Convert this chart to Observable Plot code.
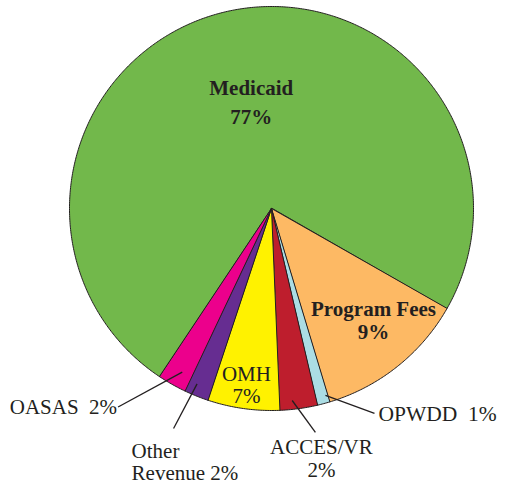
<!DOCTYPE html>
<html><head><meta charset="utf-8">
<script src="https://cdn.jsdelivr.net/npm/d3@7"></script>
<script src="https://cdn.jsdelivr.net/npm/@observablehq/plot@0.6"></script>
<style>html,body{margin:0;padding:0;background:#fff;overflow:hidden;}</style>
</head><body><div id="chart"></div>
<script>
// ---- data (clockwise from the Medicaid/OASAS boundary) ----
const categories = ["Medicaid", "Program Fees", "OPWDD", "ACCES/VR", "OMH", "Other Revenue", "OASAS"];
const shares = [73.9, 12.1, 1.0, 3.0, 5.75, 1.95, 2.3];          // slice sizes as drawn
const percentLabels = ["77%", "9%", "1%", "2%", "7%", "2%", "2%"]; // printed labels
const nameLabels = ["Medicaid", "Program Fees", "OPWDD", "ACCES/VR", "OMH", "Other\nRevenue", "OASAS"];
const colors = ["#72b84b", "#fdb964", "#abdde4", "#be1e2d", "#fff200", "#662d91", "#ec008c"];

// ---- layout ----
const startAngle = 213.6; // degrees clockwise from 12 o'clock
const ink = "#231f20";
const font = "Liberation Serif";

// label layout: polar anchor (deg, radius fraction), or leader line
const layout = [
  {inside: true, angle: 349.4, r: 0.545, anchor: "middle", lineAnchor: "middle", lineHeight: 1.36, weight: "bold", sep: "\n", size: 21},
  {inside: true, angle: 137.6, r: 0.749, anchor: "middle", lineAnchor: "middle", lineHeight: 1.1, weight: "bold", sep: "\n", size: 21},
  {a1: 163.9, r1: 0.963, a2: 153.3, r2: 1.135, anchor: "start", lineAnchor: "middle", lineHeight: 1.1, dx: 4, dy: 0, sep: "\u00a0 ", size: 21.5},
  {a1: 173.85, r1: 0.956, a2: 168.9, r2: 1.129, anchor: "middle", lineAnchor: "top", lineHeight: 1.1, dx: 6, dy: 5, sep: "\n", size: 21},
  {inside: true, angle: 188.1, r: 0.881, anchor: "middle", lineAnchor: "middle", lineHeight: 1.06, weight: "normal", sep: "\n", size: 21},
  {a1: 203, r1: 0.943, a2: 204, r2: 1.192, anchor: "start", lineAnchor: "top", lineHeight: 1.05, dx: -42, dy: 14, sep: " ", size: 21},
  {a1: 208.6, r1: 0.923, a2: 217.7, r2: 1.242, anchor: "end", lineAnchor: "middle", lineHeight: 1.1, dx: -1, dy: 0, sep: "\u00a0 ", size: 21}
];

const rad = d => d * Math.PI / 180;
const px = (a, r) => r * Math.sin(rad(a));
const py = (a, r) => r * Math.cos(rad(a));

// slice polygons
const total = d3.sum(shares);
const polys = [];
let acc = startAngle;
categories.forEach((name, i) => {
  const a0 = acc, a1 = acc + shares[i] / total * 360;
  acc = a1;
  polys.push({name, x: 0, y: 0});
  const n = Math.max(2, Math.ceil((a1 - a0) / 0.5));
  for (let k = 0; k <= n; ++k) {
    const a = a0 + (a1 - a0) * k / n;
    polys.push({name, x: px(a, 1), y: py(a, 1)});
  }
});

const marks = [
  Plot.line(polys, {x: "x", y: "y", z: "name", fill: "name", stroke: ink, strokeWidth: 1, curve: "linear-closed"})
];

const leaders = [];
categories.forEach((name, i) => {
  const L = layout[i];
  const text = nameLabels[i] + L.sep + percentLabels[i];
  let x, y;
  if (L.inside) { x = px(L.angle, L.r); y = py(L.angle, L.r); }
  else {
    leaders.push({x1: px(L.a1, L.r1), y1: py(L.a1, L.r1), x2: px(L.a2, L.r2), y2: py(L.a2, L.r2)});
    x = px(L.a2, L.r2); y = py(L.a2, L.r2);
  }
  marks.push(Plot.text([{x, y, text}], {
    x: "x", y: "y", text: "text",
    textAnchor: L.anchor, lineAnchor: L.lineAnchor, lineHeight: L.lineHeight,
    dx: L.dx || 0, dy: L.dy || 0,
    fontFamily: font, fontSize: L.size, fontWeight: L.weight || "normal", fill: ink
  }));
});
marks.push(Plot.link(leaders, {x1: "x1", y1: "y1", x2: "x2", y2: "y2", stroke: ink, strokeWidth: 1.3}));

const chart = Plot.plot({
  width: 505, height: 484,
  marginLeft: 69, marginRight: 32, marginTop: 6, marginBottom: 74,
  x: {domain: [-1, 1], axis: null},
  y: {domain: [-1, 1], axis: null},
  color: {domain: categories, range: colors},
  style: {background: "white", fontFamily: font},
  marks
});
document.getElementById("chart").appendChild(chart);
</script>
</body></html>
